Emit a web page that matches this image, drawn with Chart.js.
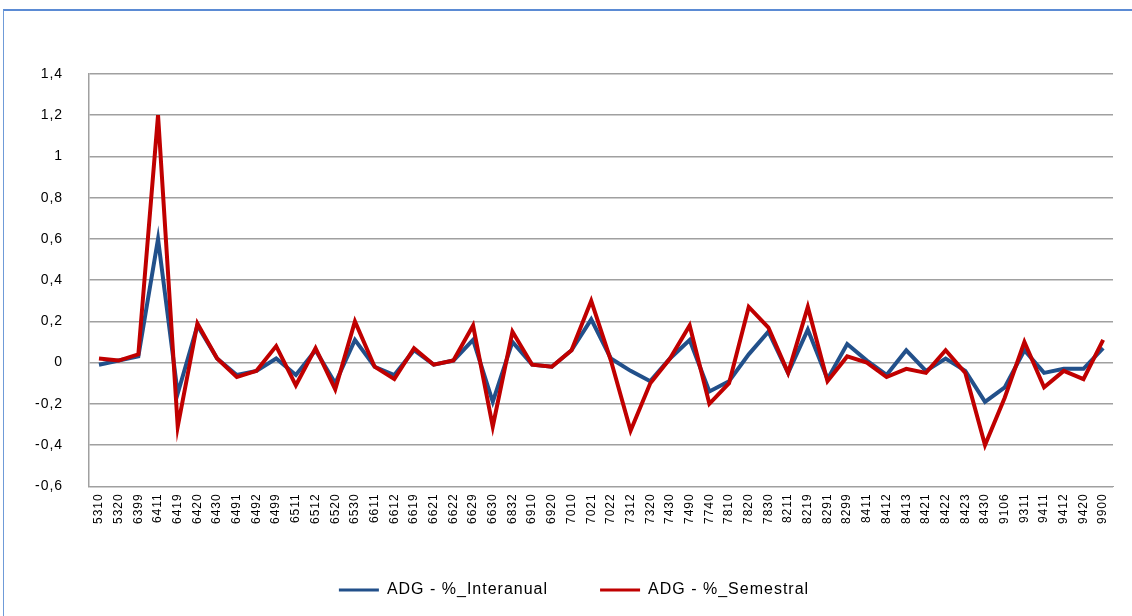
<!DOCTYPE html>
<html>
<head>
<meta charset="utf-8">
<script src="https://cdn.jsdelivr.net/npm/chart.js@4.4.1/dist/chart.umd.min.js"></script>
<style>
  html, body { margin: 0; padding: 0; background: #fff; }
  body { width: 1132px; height: 616px; overflow: hidden; position: relative; }
  .frame {
    position: absolute; left: 3px; top: 9px; width: 1200px; height: 700px;
    border-left: 1px solid #6f9bd8; border-top: 2px solid #5b8bd4;
  }
  #chart { position: absolute; left: 0; top: 0; }
</style>
</head>
<body>
<div class="frame"></div>
<canvas id="chart" width="1132" height="616"></canvas>
<script>
const categories = [
  "5310", "5320", "6399", "6411", "6419", "6420", "6430", "6491", "6492", "6499",
  "6511", "6512", "6520", "6530", "6611", "6612", "6619", "6621", "6622", "6629",
  "6630", "6832", "6910", "6920", "7010", "7021", "7022", "7312", "7320", "7430",
  "7490", "7740", "7810", "7820", "7830", "8211", "8219", "8291", "8299", "8411",
  "8412", "8413", "8421", "8422", "8423", "8430", "9106", "9311", "9411", "9412",
  "9420", "9900"
];

const interanual = [
  -0.01, 0.01, 0.03, 0.60, -0.15, 0.18, 0.02, -0.06, -0.04, 0.02,
  -0.06, 0.06, -0.10, 0.11, -0.02, -0.06, 0.06, -0.01, 0.01, 0.11,
  -0.19, 0.10, -0.01, -0.02, 0.06, 0.21, 0.02, -0.04, -0.09, 0.02,
  0.11, -0.14, -0.09, 0.04, 0.15, -0.05, 0.16, -0.08, 0.09, 0.01,
  -0.06, 0.06, -0.04, 0.02, -0.04, -0.19, -0.12, 0.06, -0.05, -0.03,
  -0.03, 0.07
];

const semestral = [
  0.02, 0.01, 0.04, 1.20, -0.31, 0.19, 0.02, -0.07, -0.04, 0.08,
  -0.11, 0.07, -0.13, 0.20, -0.02, -0.08, 0.07, -0.01, 0.01, 0.18,
  -0.31, 0.15, -0.01, -0.02, 0.06, 0.30, 0.01, -0.33, -0.10, 0.02,
  0.18, -0.20, -0.10, 0.27, 0.17, -0.05, 0.27, -0.09, 0.03, 0.00,
  -0.07, -0.03, -0.05, 0.06, -0.05, -0.40, -0.17, 0.10, -0.12, -0.04,
  -0.08, 0.11
];

const seriesNames = ["ADG - %_Interanual", "ADG - %_Semestral"];
const seriesColors = ["#22508a", "#c00000"];

function formatTick(value) {
  const rounded = Math.round(value * 10) / 10;
  return String(rounded).replace(".", ",");
}

// the original text is loosely spaced; the canvas state is reset on resize,
// so set it again before layout and before drawing
const looseText = {
  id: "looseText",
  beforeUpdate(chart) {
    chart.ctx.letterSpacing = "1px";
  },
  afterLayout(chart) {
    // legend sits a little right of the canvas centre in the original
    chart.legend.left += 13;
    chart.legend.right += 13;
  },
  beforeDraw(chart) {
    chart.ctx.letterSpacing = "1px";
  }
};

const ctx = document.getElementById("chart");

new Chart(ctx, {
  type: "line",
  plugins: [looseText],
  data: {
    labels: categories,
    datasets: [
      {
        label: seriesNames[0],
        data: interanual,
        borderColor: seriesColors[0],
        backgroundColor: seriesColors[0],
        borderWidth: 4,
        pointRadius: 0,
        tension: 0,
        order: 2
      },
      {
        label: seriesNames[1],
        data: semestral,
        borderColor: seriesColors[1],
        backgroundColor: seriesColors[1],
        borderWidth: 4,
        pointRadius: 0,
        tension: 0,
        order: 1
      }
    ]
  },
  options: {
    responsive: false,
    animation: false,
    layout: {
      padding: { left: 9, right: 19, top: 74, bottom: 8 }
    },
    plugins: {
      tooltip: { enabled: false },
      legend: {
        position: "bottom",
        labels: {
          font: { family: "Liberation Sans", size: 16 },
          color: "#000",
          boxWidth: 40,
          boxHeight: 3,
          padding: 52,
          sort: (a, b) => a.datasetIndex - b.datasetIndex,
          generateLabels: (chart) =>
            Chart.defaults.plugins.legend.labels.generateLabels(chart).map((item) => {
              item.lineWidth = 0;
              return item;
            })
        }
      }
    },
    scales: {
      x: {
        offset: true,
        grid: { display: false, drawTicks: false },
        border: { display: true, color: "#a0a0a0", width: 1 },
        afterFit: (scale) => {
          scale.height -= 1;
        },
        ticks: {
          autoSkip: false,
          minRotation: 90,
          maxRotation: 90,
          padding: 7,
          color: "#000",
          font: { family: "Liberation Sans", size: 12 }
        }
      },
      y: {
        min: -0.6,
        max: 1.4,
        grid: { color: "#a0a0a0", lineWidth: 1.5, drawTicks: false },
        border: { display: true, color: "#a0a0a0", width: 1.5 },
        ticks: {
          stepSize: 0.2,
          padding: 26,
          color: "#000",
          font: { family: "Liberation Sans", size: 14 },
          callback: formatTick
        }
      }
    }
  }
});
</script>
</body>
</html>
